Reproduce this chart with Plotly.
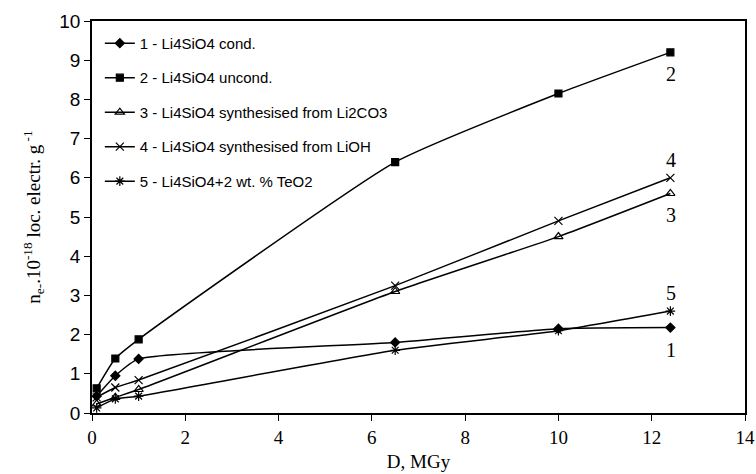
import plotly.graph_objects as go

dose = [0.1, 0.5, 1.0, 6.5, 10.0, 12.4]
s1_cond = [0.43, 0.95, 1.38, 1.8, 2.15, 2.18]
s2_uncond = [0.63, 1.39, 1.88, 6.4, 8.15, 9.2]
s3_li2co3 = [0.23, 0.4, 0.6, 3.1, 4.5, 5.6]
s4_lioh = [0.4, 0.65, 0.84, 3.25, 4.9, 6.0]
s5_teo2 = [0.13, 0.36, 0.43, 1.6, 2.1, 2.6]

names = [
    "1 - Li4SiO4 cond.",
    "2 - Li4SiO4 uncond.",
    "3 - Li4SiO4 synthesised from Li2CO3",
    "4 - Li4SiO4 synthesised from LiOH",
    "5 - Li4SiO4+2 wt. % TeO2",
]
series = [s1_cond, s2_uncond, s3_li2co3, s4_lioh, s5_teo2]
end_labels = ["1", "2", "3", "4", "5"]
symbols = ["diamond", "square", "triangle-up-open", "x-thin-open", "asterisk-open"]
sizes = [7, 7, 8, 8, 8]
label_shift = [-22, -22, -22, 18, 18]

fig = go.Figure()
for i, (nm, ys) in enumerate(zip(names, series)):
    fig.add_trace(go.Scatter(
        x=dose, y=ys, name=nm, mode="lines+markers",
        line=dict(color="black", width=1.5, shape="spline", smoothing=0.5),
        marker=dict(symbol=symbols[i], size=sizes[i], color="black",
                    line=dict(color="black", width=1.2)),
        legendgroup="g%d" % i,
    ))
    fig.add_annotation(x=dose[-1], y=ys[-1], text=end_labels[i], showarrow=False,
                       yshift=label_shift[i], xshift=1,
                       font=dict(family="Liberation Serif", size=20, color="black"))

fig.update_layout(
    width=756, height=474,
    margin=dict(l=92, r=11, t=21, b=61, autoexpand=False),
    paper_bgcolor="white", plot_bgcolor="white",
    showlegend=True,
    legend=dict(x=0.012, y=0.985, xanchor="left", yanchor="top",
                traceorder="grouped", tracegroupgap=12,
                font=dict(family="Liberation Sans", size=15, color="black"),
                bgcolor="rgba(0,0,0,0)", itemwidth=30),
    xaxis=dict(range=[0, 14], tickmode="linear", tick0=0, dtick=2,
               automargin=False,
               showgrid=False, zeroline=False, showline=True, linecolor="black",
               linewidth=1.5, mirror=True, ticks="outside", ticklen=6,
               tickcolor="black",
               tickfont=dict(family="Liberation Serif", size=19, color="black"),
               title=dict(text="D, MGy", standoff=8,
                          font=dict(family="Liberation Serif", size=19, color="black"))),
    yaxis=dict(range=[0, 10], tickmode="linear", tick0=0, dtick=1,
               automargin=False,
               showgrid=False, zeroline=False, showline=True, linecolor="black",
               linewidth=1.5, mirror=True, ticks="outside", ticklen=6,
               tickcolor="black",
               tickfont=dict(family="Liberation Sans", size=19, color="black"),
               title=dict(text="n<sub>e-</sub>.10<sup>-18</sup> loc. electr. g<sup> -1</sup>",
                          standoff=14,
                          font=dict(family="Liberation Serif", size=19, color="black"))),
)

fig.write_html("out.html")
